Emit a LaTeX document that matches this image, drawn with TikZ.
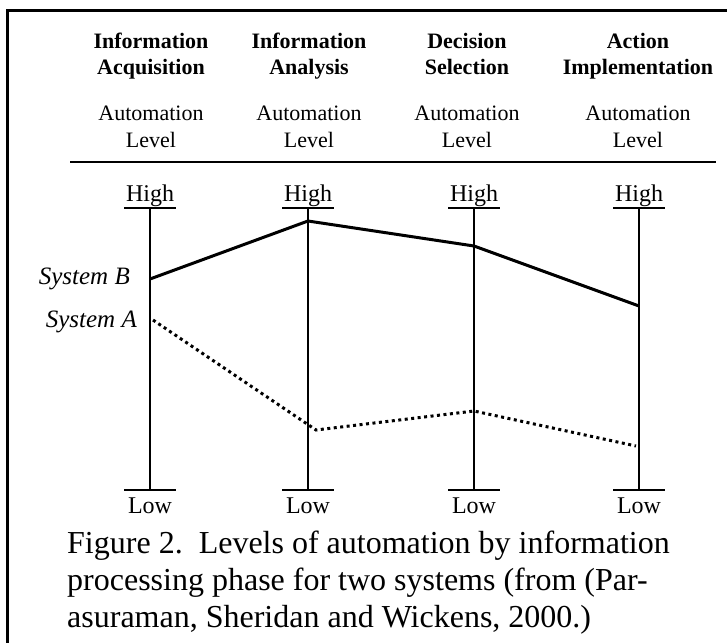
\documentclass[tikz,border=0pt]{standalone}
\usepackage{fontspec}
\setmainfont{Liberation Serif}
\usetikzlibrary{positioning}

\begin{document}
\begin{tikzpicture}
[
x=1pt, y=-1pt,
inner sep=0pt,
head/.style={font=\fontsize{22}{26}\selectfont\bfseries, align=center, anchor=north},
autolevel/.style={font=\fontsize{22}{27}\selectfont, align=center, anchor=north},
hilo/.style={font=\fontsize{24}{28}\selectfont, anchor=base},
sysname/.style={font=\fontsize{25}{28}\selectfont\itshape, anchor=base east},
axisline/.style={line width=1.6pt},
tickbar/.style={line width=1.6pt},
sysB/.style={line width=3pt, line join=round},
sysA/.style={line width=3pt, dash pattern=on 3pt off 3.5pt},
]
\useasboundingbox (0,0) rectangle (727,643);

% frame (top and left only)
\draw [line width=2.6pt] (727,10.5) -- (7.3,10.5) -- (7.3,643);

% column headings
\node [head] (acq) at (151,33) {Information\\Acquisition};
\node [head] (ana) at (309,33) {Information\\Analysis};
\node [head] (dec) at (467,33) {Decision\\Selection};
\node [head] (act) at (638,33) {Action\\Implementation};

\node [autolevel] (lvacq) at (151,106) {Automation\\Level};
\node [autolevel] (lvana) at (309,106) {Automation\\Level};
\node [autolevel] (lvdec) at (467,106) {Automation\\Level};
\node [autolevel] (lvact) at (638,106) {Automation\\Level};

\draw [line width=1.5pt] (70,162) -- (716,162);

% scales
\node [hilo] (highacq) at (150,201) {High};
\node [hilo] (highana) at (308,201) {High};
\node [hilo] (highdec) at (474,201) {High};
\node [hilo] (highact) at (639,201) {High};

\node [hilo] (lowacq) at (150,513) {Low};
\node [hilo] (lowana) at (308,513) {Low};
\node [hilo] (lowdec) at (474,513) {Low};
\node [hilo] (lowact) at (639,513) {Low};

\coordinate (topacq) at (150,208);
\coordinate (topana) at (308,208);
\coordinate (topdec) at (474,208);
\coordinate (topact) at (639,208);
\coordinate (botacq) at (150,490);
\coordinate (botana) at (308,490);
\coordinate (botdec) at (474,490);
\coordinate (botact) at (639,490);

\draw [tickbar] ([xshift=-26pt]topacq) -- ([xshift=26pt]topacq);
\draw [tickbar] ([xshift=-26pt]topana) -- ([xshift=26pt]topana);
\draw [tickbar] ([xshift=-26pt]topdec) -- ([xshift=26pt]topdec);
\draw [tickbar] ([xshift=-26pt]topact) -- ([xshift=26pt]topact);
\draw [tickbar] ([xshift=-26pt]botacq) -- ([xshift=26pt]botacq);
\draw [tickbar] ([xshift=-26pt]botana) -- ([xshift=26pt]botana);
\draw [tickbar] ([xshift=-26pt]botdec) -- ([xshift=26pt]botdec);
\draw [tickbar] ([xshift=-26pt]botact) -- ([xshift=26pt]botact);

\draw [axisline] (topacq) -- (botacq);
\draw [axisline] (topana) -- (botana);
\draw [axisline] (topdec) -- (botdec);
\draw [axisline] (topact) -- (botact);

% systems
\coordinate (b1) at (150,279);
\coordinate (b2) at (308,221);
\coordinate (b3) at (474,246);
\coordinate (b4) at (639,306);
\coordinate (a1) at (153,320);
\coordinate (a2) at (316,430);
\coordinate (a3) at (474,411);
\coordinate (a4) at (636,446);

\node [sysname] (sysb) at (130,284) {System B};
\node [sysname] (sysa) at (137,327) {System A};

\draw [sysB] (b1) -- (b2) -- (b3) -- (b4);
\draw [sysA] (a1) -- (a2) -- (a3) -- (a4);

% caption (base = last line)
\node [font=\fontsize{32}{37}\selectfont, align=left, anchor=base west] (caption) at (67,627)
  {Figure 2.\ \ Levels of automation by information\\
   processing phase for two systems (from (Par-\\
   asuraman, Sheridan and Wickens, 2000.)};
\end{tikzpicture}
\end{document}
